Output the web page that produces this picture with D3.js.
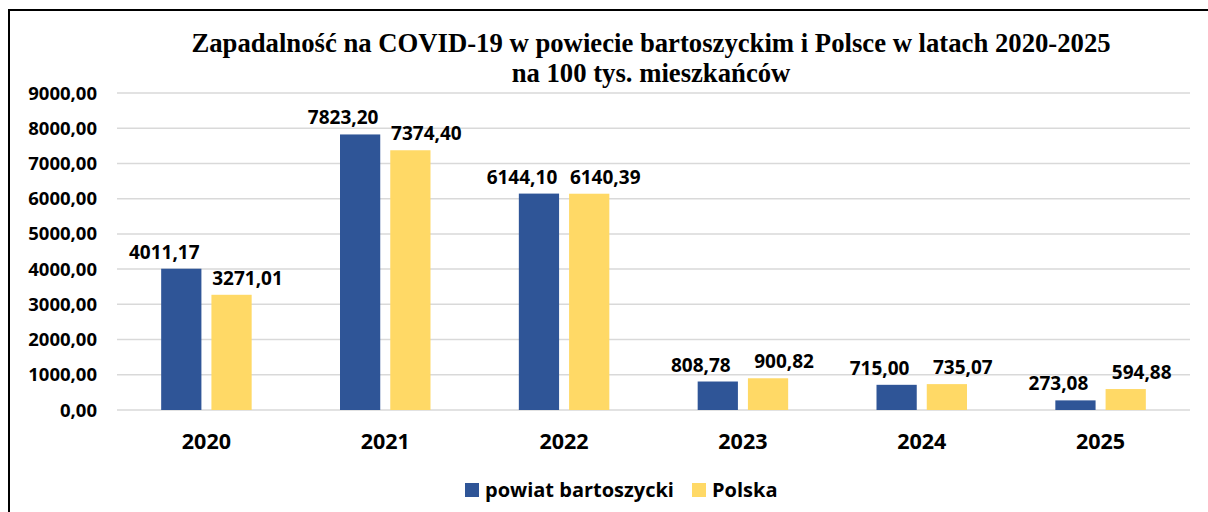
<!DOCTYPE html>
<html>
<head>
<meta charset="utf-8">
<script src="https://cdn.jsdelivr.net/npm/d3@7"></script>
<style>
  body { margin: 0; background: #fff; }
  svg text { font-family: "Open Sans", sans-serif; font-weight: 700; fill: #000; }
  .title { font-family: "Liberation Serif", "Times New Roman", serif; }
</style>
</head>
<body>
<svg id="chart" width="1208" height="512"></svg>
<script>
// dane
let years = ['2020', '2021', '2022', '2023', '2024', '2025'];
let powiat = [4011.17, 7823.20, 6144.10, 808.78, 715.00, 273.08];
let polska = [3271.01, 7374.40, 6140.39, 900.82, 735.07, 594.88];
let seriesNames = ['powiat bartoszycki', 'Polska'];
let seriesColors = ['#2F5597', '#FFD966'];
let yTicks = [0, 1000, 2000, 3000, 4000, 5000, 6000, 7000, 8000, 9000];
let titleLines = ['Zapadalność na COVID-19 w powiecie bartoszyckim i Polsce w latach 2020-2025',
                  'na 100 tys. mieszkańców'];

let svg = d3.select('#chart');
let fmt = v => v.toFixed(2).replace('.', ',');

let x = d3.scaleBand().domain(years).range([117, 1190]).padding(0);
let y = d3.scaleLinear().domain([0, 9000]).range([410, 93]);

let barW = x.bandwidth() * 0.225,
    gap = x.bandwidth() * 0.056;

// ramka
svg.append('path')
    .attr('d', 'M9,512 V10 H1208')
    .attr('fill', 'none')
    .attr('stroke', '#000')
    .attr('stroke-width', 2);

// tytul
svg.append('g').selectAll('text')
    .data(titleLines)
    .join('text')
    .attr('class', 'title')
    .attr('x', 651)
    .attr('y', (d, i) => 52 + i * 30)
    .attr('text-anchor', 'middle')
    .attr('font-size', 26.7)
    .text(d => d);

// siatka
svg.append('g').selectAll('line')
    .data(yTicks)
    .join('line')
    .attr('x1', 117).attr('x2', 1190)
    .attr('y1', d => y(d)).attr('y2', d => y(d))
    .attr('stroke', '#d9d9d9')
    .attr('stroke-width', 1.5);

// os Y
svg.append('g').selectAll('text')
    .data(yTicks)
    .join('text')
    .attr('x', 97)
    .attr('y', d => y(d) + 6.5)
    .attr('text-anchor', 'end')
    .attr('font-size', 18.5)
    .text(d => fmt(d));

// os X
svg.append('g').selectAll('text')
    .data(years)
    .join('text')
    .attr('x', d => x(d) + x.bandwidth() / 2)
    .attr('y', 449)
    .attr('text-anchor', 'middle')
    .attr('font-size', 21.5)
    .text(d => d);

// slupki
let series = [powiat, polska];
series.forEach(function(vals, s) {
    let offs = s === 0 ? -(gap / 2 + barW) : gap / 2;
    let g = svg.append('g');
    g.selectAll('rect')
        .data(vals)
        .join('rect')
        .attr('x', (d, i) => x(years[i]) + x.bandwidth() / 2 + offs)
        .attr('y', d => y(d))
        .attr('width', barW)
        .attr('height', d => y(0) - y(d))
        .attr('fill', seriesColors[s]);
    // etykiety - przesuniete na boki zeby sie nie nakladaly
    g.selectAll('text')
        .data(vals)
        .join('text')
        .attr('x', (d, i) => x(years[i]) + x.bandwidth() / 2 + offs + barW / 2 + (s === 0 ? -17 : 16))
        .attr('y', d => y(d) - 10)
        .attr('text-anchor', 'middle')
        .attr('font-size', 19)
        .text(d => fmt(d));
});

// legenda
let legend = svg.append('g');
let lx = [465, 692];
seriesNames.forEach(function(name, i) {
    legend.append('rect')
        .attr('x', lx[i]).attr('y', 483)
        .attr('width', 14).attr('height', 14)
        .attr('fill', seriesColors[i]);
    legend.append('text')
        .attr('x', lx[i] + 20)
        .attr('y', 497)
        .attr('font-size', 20)
        .text(name);
});
</script>
</body>
</html>
